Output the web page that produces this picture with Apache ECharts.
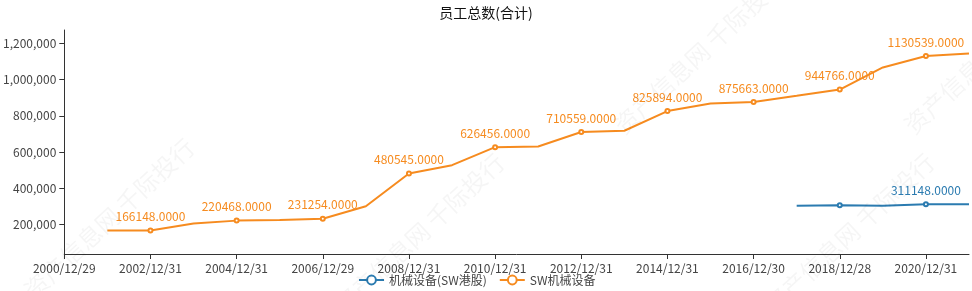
<!DOCTYPE html>
<html>
<head>
<meta charset="utf-8">
<script src="https://cdn.jsdelivr.net/npm/echarts@6/dist/echarts.min.js"></script>
<style>
html,body{margin:0;padding:0;background:#fff;}
#chart{width:972px;height:291px;}
</style>
</head>
<body>
<div id="chart"></div>
<script>
var titleText = '员工总数(合计)';
var categories = ['2000/12/29','2001/12/31','2002/12/31','2003/12/31','2004/12/31','2005/12/30','2006/12/29','2007/12/31','2008/12/31','2009/12/31','2010/12/31','2011/12/30','2012/12/31','2013/12/31','2014/12/31','2015/12/31','2016/12/30','2017/12/29','2018/12/28','2019/12/31','2020/12/31','2021/12/31'];
var seriesNames = ['机械设备(SW港股)', 'SW机械设备'];
var hkValues = [null,null,null,null,null,null,null,null,null,null,null,null,null,null,null,null,null,302500,305000,302000,311148,311000];
var swValues = [null,165500,166148,205000,220468,224000,231254,300000,480545,527000,626456,630000,710559,717000,825894,868000,875663,910000,944766,1067000,1130539,1144000];
var hkLabelIdx = [20];
var symbolIdx = [0,2,4,6,8,10,12,14,16,18,20];

var colors = ['#2b7bb0', '#f68b1f'];

function buildData(values, labelIdx) {
  return values.map(function (v, i) {
    var item = { value: v };
    if (symbolIdx.indexOf(i) < 0) {
      item.symbol = 'none';
      item.label = { show: false };
    } else if (labelIdx && labelIdx.indexOf(i) < 0) {
      item.label = { show: false };
    }
    return item;
  });
}

var wmText = '资产信息网 千际投行';
var wmPos = [[20, 285], [330, 300], [610, 120], [760, 300], [900, 120]];
var graphics = wmPos.map(function (p) {
  return {
    type: 'text', x: p[0], y: p[1], rotation: Math.PI / 4.2, silent: true, z: 100,
    style: { text: wmText, fill: 'rgba(0,0,0,0.04)', font: '24px "Noto Sans CJK SC"' }
  };
});

var chart = echarts.init(document.getElementById('chart'), null, { renderer: 'canvas' });
chart.setOption({
  animation: false,
  color: colors,
  textStyle: { fontFamily: '"Noto Sans CJK SC", "Noto Sans", sans-serif' },
  title: {
    text: titleText, left: 'center', top: 1,
    textStyle: { fontSize: 14, fontWeight: 'normal', color: '#111' }
  },
  legend: {
    bottom: 0, left: 353, itemGap: 12, itemWidth: 25, itemHeight: 11,
    textStyle: { fontSize: 12, color: '#444' },
    data: seriesNames
  },
  grid: { left: 63, right: 3, top: 30, bottom: 37, containLabel: false },
  xAxis: {
    type: 'category', data: categories, boundaryGap: false,
    axisLine: { lineStyle: { color: '#333' } },
    axisTick: { show: true, interval: 1, alignWithLabel: true },
    axisLabel: { interval: 1, color: '#444', fontSize: 12, margin: 8 }
  },
  yAxis: {
    type: 'value', min: 36000, max: 1274000, splitNumber: 6,
    splitLine: { show: false },
    axisLine: { show: true, lineStyle: { color: '#333' } },
    axisTick: { show: true },
    axisLabel: {
      showMinLabel: false, showMaxLabel: false, color: '#444', fontSize: 12,
      formatter: function (v) { return v.toLocaleString('en-US'); }
    }
  },
  series: [
    {
      name: seriesNames[0], type: 'line', data: buildData(hkValues, hkLabelIdx),
      symbol: 'emptyCircle', symbolSize: 4, showAllSymbol: true, connectNulls: false,
      lineStyle: { width: 2 },
      label: { show: true, position: 'top', fontSize: 12, color: colors[0],
        formatter: function (p) { return Number(p.value).toFixed(4); } }
    },
    {
      name: seriesNames[1], type: 'line', data: buildData(swValues),
      symbol: 'emptyCircle', symbolSize: 4, showAllSymbol: true, connectNulls: false,
      lineStyle: { width: 2 },
      label: { show: true, position: 'top', fontSize: 12, color: colors[1],
        formatter: function (p) { return Number(p.value).toFixed(4); } }
    }
  ],
  graphic: graphics
});
</script>
</body>
</html>
